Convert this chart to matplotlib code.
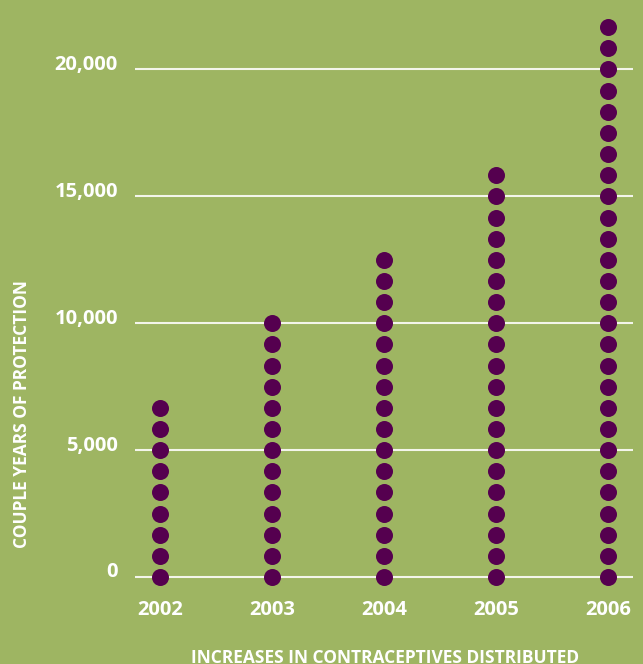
import matplotlib
matplotlib.use("Agg")
import matplotlib.pyplot as plt
import matplotlib.transforms as mtransforms
import numpy as np

years = ["2002", "2003", "2004", "2005", "2006"]
values = [6667, 10000, 12500, 15833, 21667]   # couple years of protection (top dot)
dot_unit = 10000 / 12                           # value represented by one dot step
yticks = [0, 5000, 10000, 15000, 20000]
ytick_labels = ["0", "5,000", "10,000", "15,000", "20,000"]

BG = "#9eb562"
DOT = "#55004f"
FONT = ["Open Sans", "DejaVu Sans"]

fig = plt.figure(figsize=(6.43, 6.64), dpi=100, facecolor=BG)
ax = fig.add_axes([135/643, 64/664, 498/643, 590/664])
ax.set_facecolor(BG)

per_px = 1 / 0.025375
ax.set_ylim(-(600 - 577) * per_px, (577 - 10) * per_px)
ax.set_xlim(-0.223, 4.223)

for yv in yticks:
    ax.axhline(yv, color="#f3f5ea", lw=1.5, zorder=1)

for i, v in enumerate(values):
    n = int(round(v / dot_unit)) + 1
    ys = np.arange(n) * dot_unit
    ax.scatter(np.full(n, i), ys, s=150, color=DOT, zorder=3, linewidths=0)

for s in ax.spines.values():
    s.set_visible(False)
ax.set_xticks([])
ax.set_yticks([])

blend = mtransforms.blended_transform_factory(fig.transFigure, ax.transData)
for yv, lab in zip(yticks, ytick_labels):
    ax.text(118/643, yv + 180, lab, transform=blend, ha="right", va="center",
            color="white", fontsize=14.5, fontweight="bold", family=FONT)

for i, y in enumerate(years):
    ax.annotate(y, xy=(i, 0), xycoords="data", xytext=(0, -33),
                textcoords="offset pixels", ha="center", va="center",
                color="white", fontsize=14.5, fontweight="bold", family=FONT)

fig.text(22/643, 1 - 414/664, "COUPLE YEARS OF PROTECTION", rotation=90,
         ha="center", va="center", color="white", fontsize=12.5,
         fontweight="bold", family=FONT)
fig.text(385/643, 1 - 658/664, "INCREASES IN CONTRACEPTIVES DISTRIBUTED",
         ha="center", va="center", color="white", fontsize=12.5,
         fontweight="bold", family=FONT)

fig.savefig("out.png", dpi=100, facecolor=BG)
